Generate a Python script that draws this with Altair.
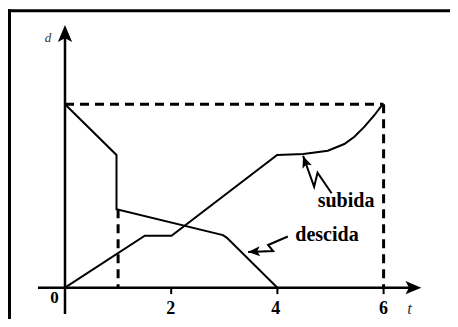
import altair as alt
import pandas as pd

# ---- data (t = time, d = distance) ----
# "descida" curve
desc_t = [0.0, 0.97, 0.97, 2.975, 3.05, 4.0]
desc_d = [6.0, 4.34, 2.565, 1.72, 1.63, 0.0]
# "subida" curve
sub_t = [0.0, 1.503, 2.006, 3.995, 4.49, 4.95, 5.26, 5.45, 5.64, 5.83, 5.98]
sub_d = [0.0, 1.70, 1.70, 4.34, 4.37, 4.48, 4.70, 4.94, 5.27, 5.65, 6.0]

# dashed guide lines
guide_t = [0.0, 6.0, 1.0]
guide_t2 = [6.0, 6.0, 1.0]
guide_d = [6.0, 6.0, 2.565]
guide_d2 = [6.0, 0.0, 0.0]

# axes (drawn as lines with arrow heads)
axis_t = [-0.509, 0.0]
axis_t2 = [6.55, 0.0]
axis_d = [0.0, -0.86]
axis_d2 = [0.0, 8.3]
tick_t = [2, 4, 6]
tick_d_low = -0.21

# lightning-bolt leader lines (tip first)
sub_bolt_t = [4.484, 4.692, 4.756, 5.02]
sub_bolt_d = [4.31, 3.30, 3.76, 3.09]
desc_bolt_t = [3.448, 3.919, 3.825, 4.196]
desc_bolt_d = [1.168, 1.20, 1.397, 1.675]

# arrow heads: axis tips and bolt tips
head_t = [0.0, 6.71, 4.484, 3.448]
head_d = [8.59, 0.0, 4.31, 1.168]
head_angle = [0, 90, 340, 266]
head_size = [1156, 1000, 560, 560]

# labels
tick_labels = ["0", "2", "4", "6"]
tick_label_t = [-0.198, 1.99, 3.97, 6.0]
tick_label_d = [-0.51, -0.87, -0.87, -0.87]
tick_label_size = [17, 18, 18, 18]
name_labels = ["subida", "descida"]
name_t = [5.293, 4.934]
name_d = [2.64, 1.534]
axis_names = ["t", "d"]
axis_name_t = [6.49, -0.318]
axis_name_d = [-0.87, 8.05]
axis_name_size = [17, 13]

W, H = 442, 311
xs = alt.Scale(domain=[-1.0734, 7.2505], nice=False, zero=False)
ys = alt.Scale(domain=[-1.0239, 9.1495], nice=False, zero=False)
FONT = "Liberation Serif"


def X(f="t"):
    return alt.X(f"{f}:Q", scale=xs, axis=None)


def Y(f="d"):
    return alt.Y(f"{f}:Q", scale=ys, axis=None)


def line_df(ts, ds):
    return pd.DataFrame({"t": ts, "d": ds, "o": list(range(len(ts)))})


desc_line = alt.Chart(line_df(desc_t, desc_d)).mark_line(
    color="black", strokeWidth=2, strokeJoin="miter"
).encode(x=X(), y=Y(), order="o:Q")

sub_line = alt.Chart(line_df(sub_t, sub_d)).mark_line(
    color="black", strokeWidth=2
).encode(x=X(), y=Y(), order="o:Q")

guides = alt.Chart(pd.DataFrame({"t": guide_t, "t2": guide_t2, "d": guide_d, "d2": guide_d2})).mark_rule(
    color="black", strokeWidth=3, strokeDash=[9, 6]
).encode(x=X(), x2="t2:Q", y=Y(), y2="d2:Q")

axes = alt.Chart(pd.DataFrame({"t": axis_t, "t2": axis_t2, "d": axis_d, "d2": axis_d2})).mark_rule(
    color="black", strokeWidth=2.5
).encode(x=X(), x2="t2:Q", y=Y(), y2="d2:Q")

ticks = alt.Chart(pd.DataFrame({"t": tick_t, "d": [0.0] * 3, "d2": [tick_d_low] * 3})).mark_rule(
    color="black", strokeWidth=2
).encode(x=X(), y=Y(), y2="d2:Q")

sub_bolt = alt.Chart(line_df(sub_bolt_t, sub_bolt_d)).mark_line(
    color="black", strokeWidth=2, strokeJoin="miter"
).encode(x=X(), y=Y(), order="o:Q")

desc_bolt = alt.Chart(line_df(desc_bolt_t, desc_bolt_d)).mark_line(
    color="black", strokeWidth=2, strokeJoin="miter"
).encode(x=X(), y=Y(), order="o:Q")

heads = alt.Chart(pd.DataFrame({"t": head_t, "d": head_d, "a": head_angle, "s": head_size})).mark_point(
    shape="M0,0L0.42,1L0,0.78L-0.42,1Z", filled=True, color="black", opacity=1, strokeWidth=0
).encode(
    x=X(), y=Y(),
    angle=alt.Angle("a:Q", scale=None),
    size=alt.Size("s:Q", scale=None),
)

tick_text = alt.Chart(pd.DataFrame({
    "t": tick_label_t, "d": tick_label_d, "label": tick_labels, "fs": tick_label_size
})).mark_text(
    font=FONT, fontWeight="bold", align="center", baseline="alphabetic", color="black"
).encode(x=X(), y=Y(), text="label:N", size=alt.Size("fs:Q", scale=None))

name_text = alt.Chart(pd.DataFrame({"t": name_t, "d": name_d, "label": name_labels})).mark_text(
    font=FONT, fontWeight="bold", fontSize=20, align="center", baseline="alphabetic", color="black"
).encode(x=X(), y=Y(), text="label:N")

axis_text = alt.Chart(pd.DataFrame({
    "t": axis_name_t, "d": axis_name_d, "label": axis_names, "fs": axis_name_size
})).mark_text(
    font=FONT, fontStyle="italic", align="center", baseline="alphabetic", color="#333333"
).encode(x=X(), y=Y(), text="label:N", size=alt.Size("fs:Q", scale=None))

frame_left = alt.Chart(pd.DataFrame({"k": [0]})).mark_rule(color="black", strokeWidth=3).encode(
    x=alt.value(1.5), y=alt.value(1.3), y2=alt.value(H)
)
frame_top = alt.Chart(pd.DataFrame({"k": [0]})).mark_rule(color="black", strokeWidth=3).encode(
    x=alt.value(0), x2=alt.value(W), y=alt.value(2.8)
)

chart = alt.layer(
    frame_left, frame_top, guides, axes, ticks, desc_line, sub_line,
    sub_bolt, desc_bolt, heads, tick_text, name_text, axis_text
).properties(
    width=W, height=H, padding=0,
    autosize=alt.AutoSizeParams(type="none"),
    background="white",
).configure_view(stroke=None)

chart.save("out.html", embed_options={"renderer": "svg", "actions": False})
